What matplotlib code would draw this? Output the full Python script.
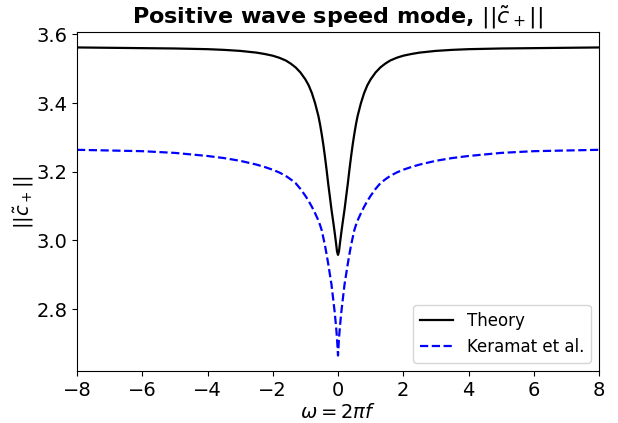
import matplotlib
matplotlib.use("Agg")
import matplotlib.pyplot as plt

# Frequency values (omega) (left half, mirrored)
omega_half = [-8, -7, -6, -5, -4, -3.5, -3, -2.5, -2.25, -2, -1.8, -1.6, -1.45,
              -1.3, -1.15, -1.0, -0.9, -0.8, -0.7, -0.6, -0.55, -0.5, -0.45,
              -0.4, -0.35, -0.3, -0.25, -0.2, -0.14, -0.1, -0.06, -0.03, 0]
theory_half = [3.562, 3.561, 3.560, 3.559, 3.557, 3.555, 3.552, 3.547, 3.543,
               3.538, 3.532, 3.524, 3.515, 3.504, 3.489, 3.469, 3.452, 3.429,
               3.399, 3.362, 3.338, 3.310, 3.279, 3.244, 3.206, 3.165, 3.128,
               3.090, 3.050, 3.022, 2.992, 2.968, 2.958]
keramat_half = [3.264, 3.262, 3.260, 3.255, 3.246, 3.240, 3.232, 3.221, 3.214,
                3.206, 3.198, 3.188, 3.178, 3.167, 3.150, 3.130, 3.115, 3.098,
                3.079, 3.058, 3.045, 3.030, 3.008, 2.986, 2.960, 2.932, 2.902,
                2.872, 2.823, 2.790, 2.750, 2.715, 2.665]

omega = omega_half + [-w for w in omega_half[-2::-1]]
theory = theory_half + theory_half[-2::-1]
keramat = keramat_half + keramat_half[-2::-1]

fig = plt.figure(figsize=(6.18, 4.23), dpi=100)
ax = fig.add_axes([77/618, 1-371/423, (599-77)/618, (371-32)/423])

ax.plot(omega, theory, color="black", lw=1.6, label="Theory")
ax.plot(omega, keramat, color="blue", lw=1.6, ls="--", label="Keramat et al.")

ax.set_xlim(-8, 8)
ax.set_ylim(2.62, 3.607)
ax.set_xticks([-8, -6, -4, -2, 0, 2, 4, 6, 8])
ax.set_yticks([2.8, 3.0, 3.2, 3.4, 3.6])
ax.tick_params(labelsize=14)
ax.set_xlabel(r"$\omega = 2\pi f$", fontsize=14, labelpad=2)
ax.set_ylabel(r"$||\tilde{c}_+||$", fontsize=14, labelpad=0)
ax.set_title(r"Positive wave speed mode, $||\tilde{c}_+||$", fontsize=16,
             fontweight="bold")
ax.legend(loc="lower right", fontsize=12)

fig.savefig("out.png", dpi=100)
